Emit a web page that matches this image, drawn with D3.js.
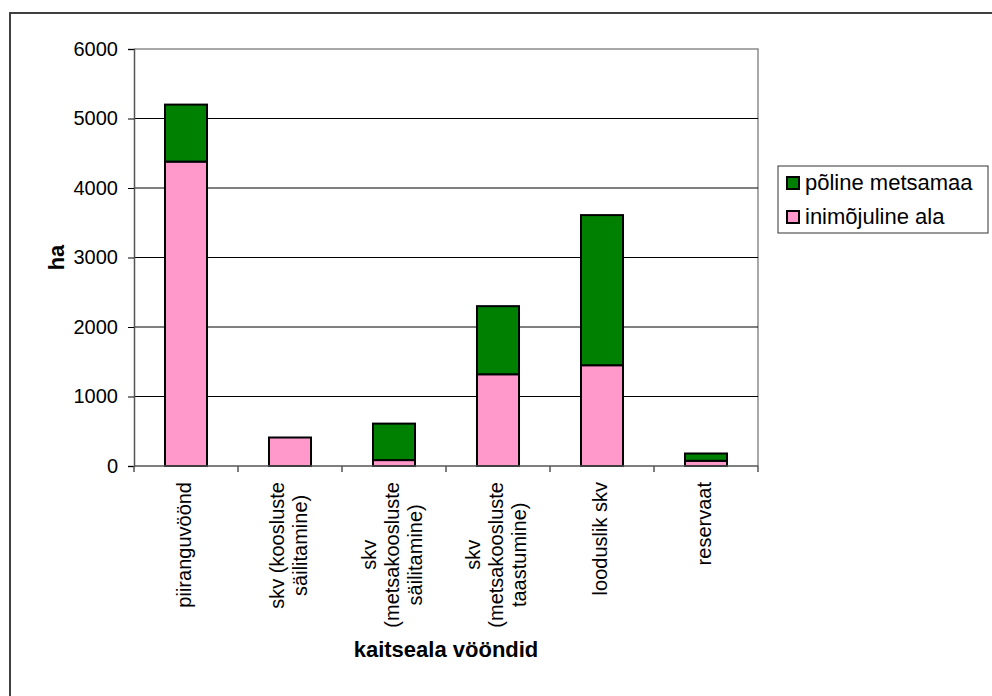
<!DOCTYPE html>
<html>
<head>
<meta charset="utf-8">
<script src="https://cdn.jsdelivr.net/npm/d3@7"></script>
<style>
  html, body { margin: 0; padding: 0; background: #fff; }
  svg { display: block; font-family: "Liberation Sans", Arial, sans-serif; }
</style>
</head>
<body>
<svg id="chart" width="992" height="696"></svg>
<script>
// Zone names (each entry is the wrapped lines of one axis label)
const categories = [
  ["piiranguvöönd"],
  ["skv (koosluste", "säilitamine)"],
  ["skv", "(metsakoosluste", "säilitamine)"],
  ["skv", "(metsakoosluste", "taastumine)"],
  ["looduslik skv"],
  ["reservaat"]
];
// Area per zone, ha
const inimojuline = [4380, 410, 85, 1320, 1450, 75];
const poline = [820, 0, 525, 980, 2160, 105];
const seriesNames = ["põline metsamaa", "inimõjuline ala"];
const yTicks = [0, 1000, 2000, 3000, 4000, 5000, 6000];
const xTitle = "kaitseala vööndid";
const yTitle = "ha";

const svg = d3.select("#chart");
const plot = { left: 134, right: 758, top: 49, bottom: 466 };

const keys = categories.map(c => c.join(" "));
const x = d3.scaleBand()
  .domain(keys)
  .range([plot.left, plot.right])
  .paddingInner(0.596)
  .paddingOuter(0.298);
const y = d3.scaleLinear().domain([0, 6000]).range([plot.bottom, plot.top]);

// outer frame of the chart object
svg.append("rect")
  .attr("x", 10).attr("y", 13)
  .attr("width", 1000).attr("height", 720)
  .attr("fill", "#fff").attr("stroke", "#404040").attr("stroke-width", 2);

// plot area border (top and right sides in grey)
svg.append("path")
  .attr("d", `M${plot.left},${plot.top}H${plot.right}V${plot.bottom}`)
  .attr("fill", "none").attr("stroke", "#8c8c8c").attr("stroke-width", 1.5);

// horizontal gridlines
svg.append("g").selectAll("line")
  .data(yTicks.filter(t => t > 0 && t < 6000))
  .join("line")
  .attr("x1", plot.left).attr("x2", plot.right)
  .attr("y1", d => y(d)).attr("y2", d => y(d))
  .attr("stroke", "#000").attr("stroke-width", 1);

// stacked bars
const stackData = keys.map((k, i) => ({ key: k, inim: inimojuline[i], pol: poline[i] }));
const stack = d3.stack().keys(["inim", "pol"])(stackData);
const colors = { inim: "#FF99CC", pol: "#008000" };

const barG = svg.append("g");
stack.forEach(layer => {
  barG.append("g").selectAll("rect")
    .data(layer.filter(d => d[1] - d[0] > 0))
    .join("rect")
    .attr("x", d => x(d.data.key))
    .attr("width", x.bandwidth())
    .attr("y", d => y(d[1]))
    .attr("height", d => y(d[0]) - y(d[1]))
    .attr("fill", colors[layer.key])
    .attr("stroke", "#000")
    .attr("stroke-width", 2);
});

// y axis
const yAxis = svg.append("g")
  .attr("transform", `translate(${plot.left},0)`)
  .call(d3.axisLeft(y).tickValues(yTicks).tickSize(6).tickPadding(10).tickFormat(d3.format("d")));
yAxis.select(".domain").attr("stroke", "#555").attr("stroke-width", 1.5);
yAxis.selectAll(".tick line").attr("stroke", "#000");
yAxis.selectAll(".tick text")
  .attr("font-size", 20).attr("fill", "#000")
  .attr("font-family", "Liberation Sans, Arial, sans-serif");

// x axis line with ticks on category boundaries
const step = x.step();
const xStart = x.range()[0];
svg.append("line")
  .attr("x1", plot.left).attr("x2", plot.right)
  .attr("y1", plot.bottom).attr("y2", plot.bottom)
  .attr("stroke", "#555").attr("stroke-width", 1.5);
svg.append("g").selectAll("line")
  .data(d3.range(keys.length + 1))
  .join("line")
  .attr("x1", i => xStart + i * step).attr("x2", i => xStart + i * step)
  .attr("y1", plot.bottom).attr("y2", plot.bottom + 6)
  .attr("stroke", "#555").attr("stroke-width", 1.5);

// rotated category labels
const lineGap = 23;
const labelTop = 482;
const labG = svg.append("g");
categories.forEach((lines, i) => {
  const cx = x(keys[i]) + x.bandwidth() / 2;
  const g = labG.append("g");
  const texts = lines.map((ln, j) => g.append("text")
    .attr("font-size", 20)
    .attr("fill", "#000")
    .attr("text-anchor", "middle")
    .text(ln));
  const maxLen = d3.max(texts, t => t.node().getComputedTextLength());
  const cy = labelTop + maxLen / 2;
  texts.forEach((t, j) => {
    const bx = cx + (j - (lines.length - 1) / 2) * lineGap + 5;
    t.attr("transform", `translate(${bx},${cy}) rotate(-90)`);
  });
});

// axis titles
svg.append("text")
  .attr("x", (plot.left + plot.right) / 2).attr("y", 657)
  .attr("text-anchor", "middle")
  .attr("font-size", 22).attr("font-weight", "bold")
  .text(xTitle);
svg.append("text")
  .attr("transform", `translate(64,${(plot.top + plot.bottom) / 2}) rotate(-90)`)
  .attr("text-anchor", "middle")
  .attr("font-size", 22).attr("font-weight", "bold")
  .text(yTitle);

// legend
const legend = svg.append("g");
legend.append("rect")
  .attr("x", 778).attr("y", 166)
  .attr("width", 210).attr("height", 67)
  .attr("fill", "#fff").attr("stroke", "#333").attr("stroke-width", 1);
const legendItems = [
  { name: seriesNames[0], color: colors.pol },
  { name: seriesNames[1], color: colors.inim }
];
legendItems.forEach((it, i) => {
  const ly = 183 + i * 34;
  legend.append("rect")
    .attr("x", 787).attr("y", ly - 6)
    .attr("width", 12).attr("height", 12)
    .attr("fill", it.color).attr("stroke", "#000").attr("stroke-width", 2);
  legend.append("text")
    .attr("x", 805).attr("y", ly)
    .attr("dy", "0.33em")
    .attr("font-size", 22)
    .attr("fill", "#000")
    .text(it.name);
});
</script>
</body>
</html>
